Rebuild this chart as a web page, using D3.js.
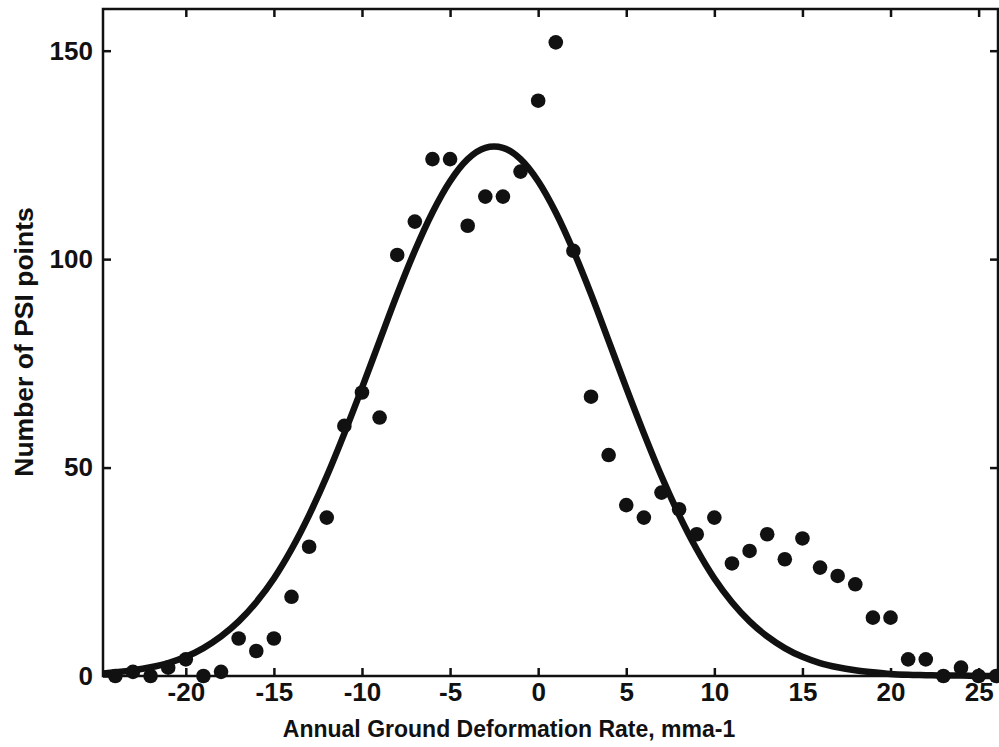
<!DOCTYPE html>
<html lang="en">
<head>
    <meta charset="UTF-8">
    <title>Number of PSI points vs Annual Ground Deformation Rate</title>
    <script src="https://d3js.org/d3.v7.min.js"></script>
    <style>
        body { margin: 0; background: #fff; }
        text { font-family: "Liberation Sans", Arial, sans-serif; font-weight: bold; fill: #111; }
        .axis path { display: none; }
        .axis line { stroke: #111; stroke-width: 2.5; }
        .axis text { font-size: 26px; }
    </style>
</head>
<body>
    <svg id="chart" width="999" height="747"></svg>

    <script>
        // observed counts per 1 mm/a bin
        const rate  = [-24, -23, -22, -21, -20, -19, -18, -17, -16, -15, -14, -13, -12, -11, -10, -9, -8, -7, -6, -5, -4, -3, -2, -1, 0, 1, 2, 3, 4, 5, 6, 7, 8, 9, 10, 11, 12, 13, 14, 15, 16, 17, 18, 19, 20, 21, 22, 23, 24, 25, 26];
        const count = [0, 1, 0, 2, 4, 0, 1, 9, 6, 9, 19, 31, 38, 60, 68, 62, 101, 109, 124, 124, 108, 115, 115, 121, 138, 152, 102, 67, 53, 41, 38, 44, 40, 34, 38, 27, 30, 34, 28, 33, 26, 24, 22, 14, 14, 4, 4, 0, 2, 0, 0];

        // fitted normal curve
        const fitX = [-25, -24, -23, -22, -21, -20, -19, -18, -17, -16, -15, -14, -13, -12, -11, -10, -9, -8, -7, -6, -5, -4, -3, -2.5, -2, -1, 0, 1, 2, 3, 4, 5, 6, 7, 8, 9, 10, 11, 12, 13, 14, 15, 16, 17, 18, 19, 20, 21, 22, 23, 24, 25, 26];
        const fitY = [0.5, 0.9, 1.4, 2.1, 3.1, 4.6, 6.7, 9.5, 13.1, 17.7, 23.4, 30.4, 38.6, 47.9, 58.2, 69.1, 80.4, 91.6, 102.0, 111.2, 118.7, 124.0, 126.7, 127.0, 126.7, 124.0, 118.7, 111.2, 102.0, 91.6, 80.4, 69.1, 58.2, 47.9, 38.6, 30.4, 23.4, 17.7, 13.1, 9.5, 6.7, 4.6, 3.1, 2.1, 1.4, 0.9, 0.5, 0.3, 0.2, 0.1, 0.1, 0, 0];

        const xTicks = [-20, -15, -10, -5, 0, 5, 10, 15, 20, 25];
        const yTicks = [0, 50, 100, 150];

        const points = rate.map((r, i) => ({ x: r, y: count[i] }));
        const fit = fitX.map((r, i) => ({ x: r, y: fitY[i] }));

        const margin = {top: 9, right: 1, bottom: 71, left: 103},
              width = 999 - margin.left - margin.right,
              height = 747 - margin.top - margin.bottom;

        const svg = d3.select("#chart")
                      .append("g")
                      .attr("transform", `translate(${margin.left}, ${margin.top})`);

        const x = d3.scaleLinear()
                    .domain([-24.7, 26.1])
                    .range([0, width]);

        const y = d3.scaleLinear()
                    .domain([0, 160])
                    .range([height, 0]);

        svg.append("clipPath")
           .attr("id", "clip")
           .append("rect")
           .attr("width", width)
           .attr("height", height + 10);

        // plain hyphen for negatives, like the original
        const fmt = d => String(d);

        // ticks all point inward
        svg.append("g")
           .attr("class", "axis")
           .attr("transform", `translate(0, ${height})`)
           .call(d3.axisBottom(x).tickValues(xTicks).tickSize(-8).tickPadding(7).tickFormat(fmt));

        svg.append("g")
           .attr("class", "axis")
           .call(d3.axisTop(x).tickValues(xTicks).tickSize(-8).tickFormat(""));

        svg.append("g")
           .attr("class", "axis")
           .call(d3.axisLeft(y).tickValues(yTicks).tickSize(-8).tickPadding(10).tickFormat(fmt));

        svg.append("g")
           .attr("class", "axis")
           .attr("transform", `translate(${width}, 0)`)
           .call(d3.axisRight(y).tickValues(yTicks).tickSize(-8).tickFormat(""));

        svg.append("rect")
           .attr("width", width)
           .attr("height", height)
           .attr("fill", "none")
           .attr("stroke", "#111")
           .attr("stroke-width", 2.5);

        const line = d3.line()
                       .x(d => x(d.x))
                       .y(d => y(d.y))
                       .curve(d3.curveMonotoneX);

        svg.append("path")
           .datum(fit)
           .attr("clip-path", "url(#clip)")
           .attr("d", line)
           .attr("fill", "none")
           .attr("stroke", "#111")
           .attr("stroke-width", 6.5)
           .attr("stroke-linejoin", "round");

        svg.selectAll(".dot")
           .data(points)
           .enter()
           .append("circle")
           .attr("class", "dot")
           .attr("cx", d => x(d.x))
           .attr("cy", d => y(d.y))
           .attr("r", 7.3)
           .attr("fill", "#111");

        svg.append("text")
           .attr("x", 509 - margin.left)
           .attr("y", height + 61)
           .attr("text-anchor", "middle")
           .style("font-size", "23px")
           .text("Annual Ground Deformation Rate, mma-1");

        svg.append("text")
           .attr("transform", `translate(${33 - margin.left}, ${342 - margin.top}) rotate(-90)`)
           .attr("text-anchor", "middle")
           .style("font-size", "26.5px")
           .text("Number of PSI points");
    </script>
</body>
</html>
